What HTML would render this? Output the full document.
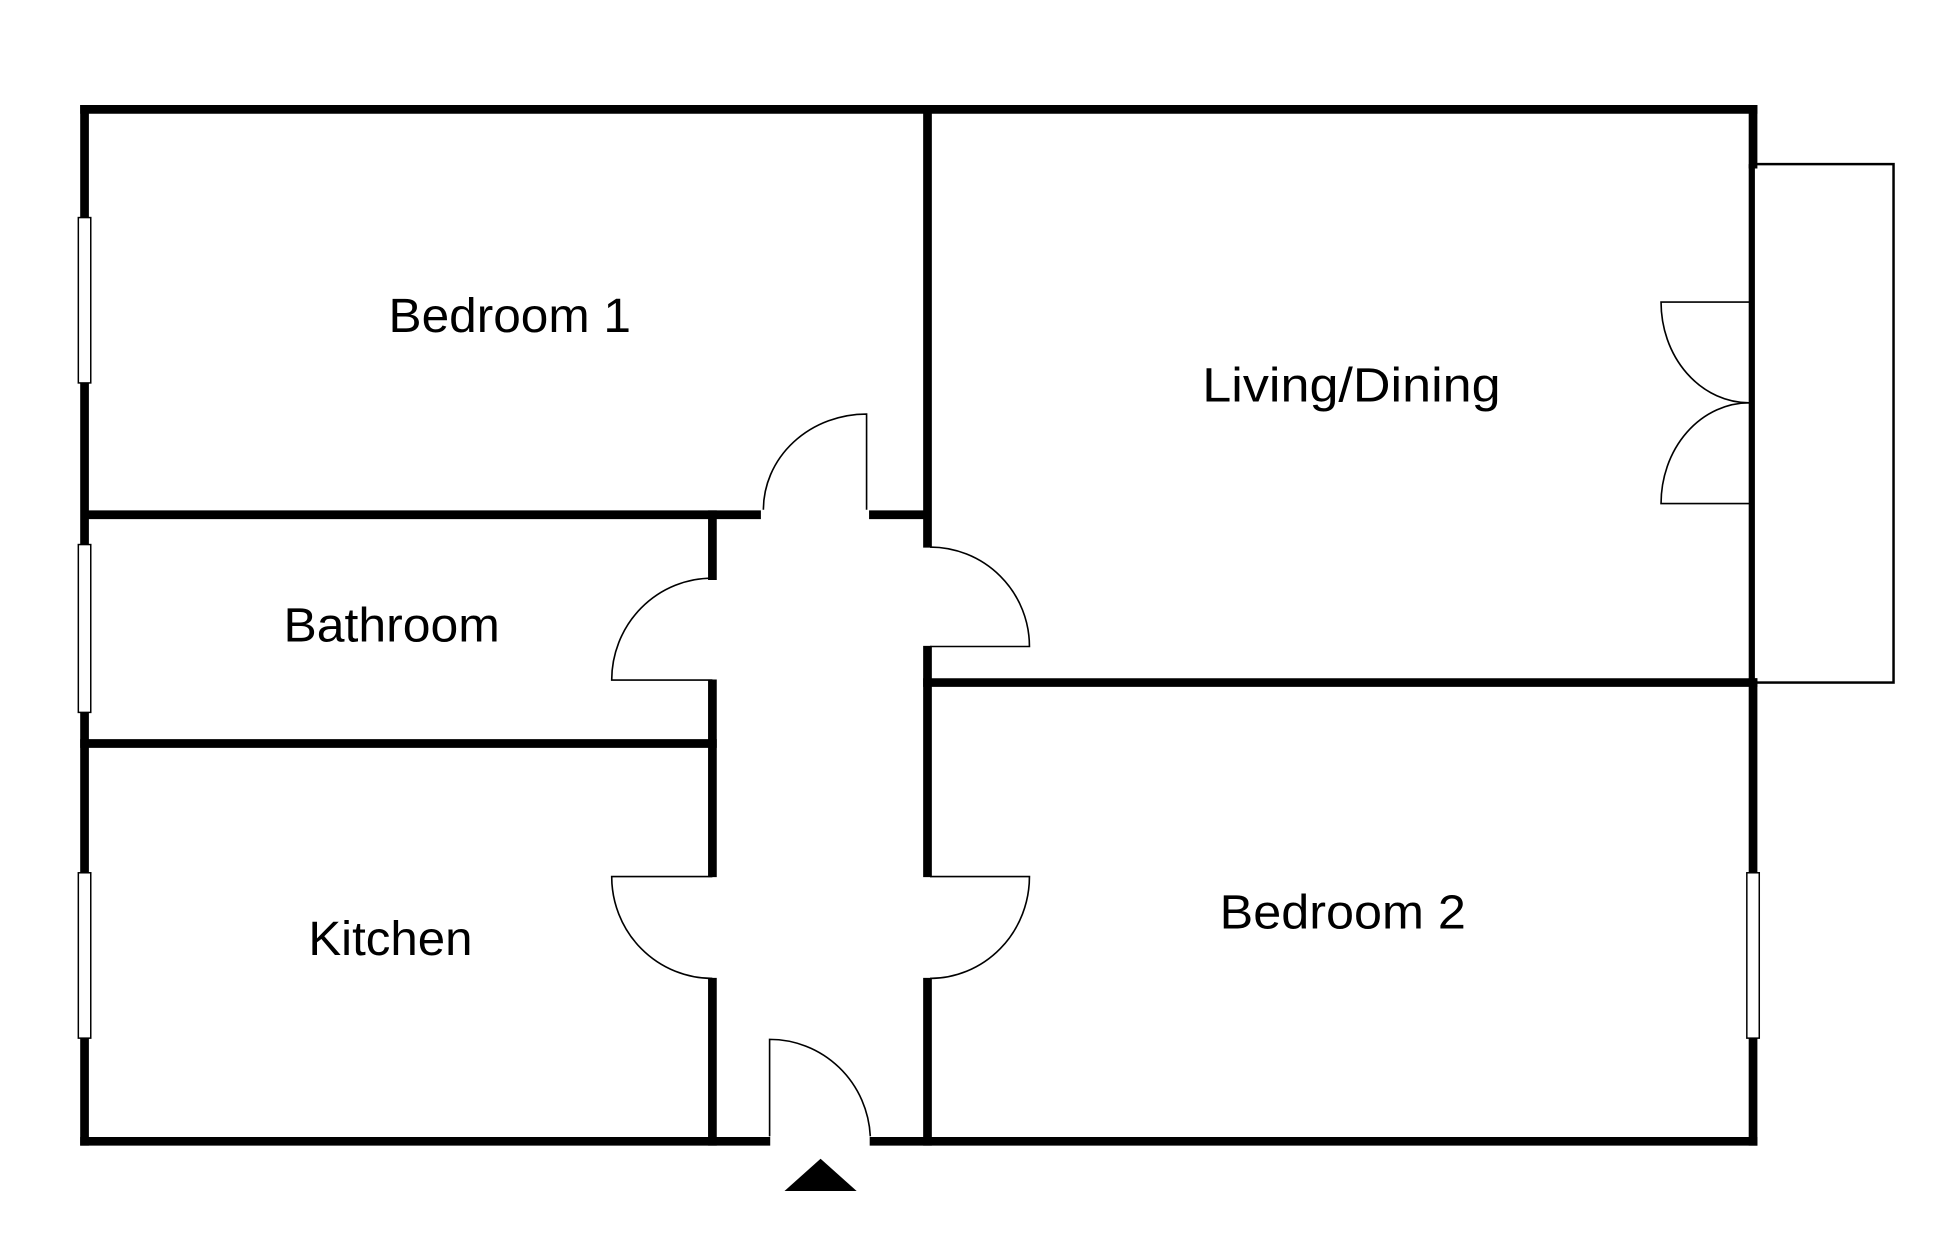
<!DOCTYPE html>
<html><head><meta charset="utf-8"><style>
html,body{margin:0;padding:0;background:#fff;}
svg{display:block;}
text{font-family:"Liberation Sans",sans-serif;font-size:39px;fill:#000;}
</style></head><body>
<svg width="1947" height="1247" viewBox="0 0 1566 1003" preserveAspectRatio="none" xmlns="http://www.w3.org/2000/svg">
<rect width="1566" height="1003" fill="#fff"/>
<g stroke="#000" stroke-width="7" fill="none" stroke-linecap="square">
<line x1="68" y1="88" x2="1410" y2="88"/>
<line x1="68" y1="88" x2="68" y2="918"/>
<line x1="68" y1="918" x2="616" y2="918"/>
<line x1="703" y1="918" x2="1410" y2="918"/>
<line x1="1410" y1="88" x2="1410" y2="132"/>
<line x1="1410" y1="549" x2="1410" y2="918"/>
<line x1="746" y1="88" x2="746" y2="437"/>
<line x1="746" y1="523" x2="746" y2="702"/>
<line x1="746" y1="790" x2="746" y2="918"/>
<line x1="68" y1="414" x2="612" y2="414" stroke-linecap="butt"/>
<line x1="699" y1="414" x2="746" y2="414" stroke-linecap="butt"/>
<line x1="573" y1="414" x2="573" y2="463"/>
<line x1="573" y1="550" x2="573" y2="702"/>
<line x1="573" y1="790" x2="573" y2="918"/>
<line x1="68" y1="598" x2="573" y2="598"/>
<line x1="746" y1="549" x2="1410" y2="549"/>
</g>
<line x1="1409" y1="132" x2="1409" y2="549" stroke="#000" stroke-width="5"/>
<rect x="1409" y="132" width="114" height="417" fill="none" stroke="#000" stroke-width="2"/>
<g fill="#fff" stroke="#000" stroke-width="1.2">
<rect x="63" y="175" width="10" height="133"/>
<rect x="63" y="438" width="10" height="135"/>
<rect x="63" y="702" width="10" height="133"/>
<rect x="1405" y="702" width="10" height="133"/>
</g>
<g fill="none" stroke="#000" stroke-width="1.3">
<path d="M697 410 V333 A83 77 0 0 0 614 410"/>
<path d="M573 465 A81 82 0 0 0 492 547 H573"/>
<path d="M573 705 H492 A81 82 0 0 0 573 787"/>
<path d="M748 440 A80 80 0 0 1 828 520 H748"/>
<path d="M748 705 H828 A80 82 0 0 1 748 787"/>
<path d="M619 914 V836 A81 82 0 0 1 700 914"/>
<path d="M1407 243 H1336 A71 81 0 0 0 1407 324"/>
<path d="M1407 405 H1336 A71 81 0 0 1 1407 324"/>
</g>
<polygon points="631,958 689,958 660,932" fill="#000"/>
<text x="410" y="267" text-anchor="middle" textLength="195" lengthAdjust="spacingAndGlyphs">Bedroom 1</text>
<text x="1087" y="323" text-anchor="middle" textLength="240" lengthAdjust="spacingAndGlyphs">Living/Dining</text>
<text x="315" y="516" text-anchor="middle" textLength="174" lengthAdjust="spacingAndGlyphs">Bathroom</text>
<text x="314" y="768" text-anchor="middle" textLength="132" lengthAdjust="spacingAndGlyphs">Kitchen</text>
<text x="1080" y="747" text-anchor="middle" textLength="198" lengthAdjust="spacingAndGlyphs">Bedroom 2</text>
</svg>
</body></html>
